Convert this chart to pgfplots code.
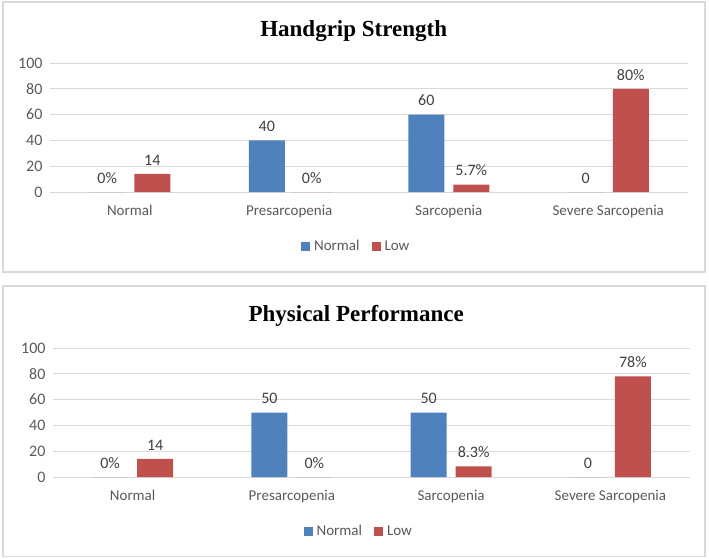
\documentclass[border=0pt]{standalone}
\usepackage{fontspec}
\setmainfont{Carlito}
\newfontfamily\titlefont{Liberation Serif}
\usepackage{pgfplots}
\pgfplotsset{compat=1.18}
\definecolor{barblue}{RGB}{79,129,189}
\definecolor{barred}{RGB}{192,80,77}
\definecolor{gridgray}{RGB}{217,217,217}
\definecolor{textgray}{RGB}{89,89,89}
\definecolor{labelgray}{RGB}{64,64,64}

\pgfplotsset{
  sarco/.style={
    ybar, scale only axis, height=129pt,
    xmin=-0.5, xmax=3.5, ymin=0, ymax=100,
    xtick={0,1,2,3},
    xticklabels={Normal, Presarcopenia, Sarcopenia, Severe Sarcopenia},
    ytick={0,20,...,100},
    ymajorgrids, grid style={gridgray, line width=0.8pt},
    axis line style={draw=none},
    major tick length=0pt,
    tick label style={text=textgray},
    yticklabel style={font=\fontsize{16}{18}\selectfont, xshift=-4pt},
    xticklabel style={font=\fontsize{15}{17}\selectfont, yshift=-10pt},
    /pgf/number format/assume math mode=true,
    bar width=36pt,
    nodes near coords,
    point meta=explicit symbolic,
    nodes near coords style={font=\fontsize{16}{18}\selectfont, text=labelgray, yshift=5pt},
    legend columns=2,
    legend style={draw=none, fill=none, at={(0.48,-0.42)}, anchor=center,
      font=\fontsize{15}{17}\selectfont, text=textgray,
      /tikz/every even column/.append style={column sep=10pt}},
    legend image code/.code={\fill[#1] (0pt,-4.5pt) rectangle (9pt,4.5pt);
      \path (0pt,0pt) -- (11pt,0pt);},
    title style={at={(0.476,1.20)}, anchor=center,
      font=\titlefont\bfseries\fontsize{23}{26}\selectfont, text=black},
  }
}

\begin{document}
\begin{tikzpicture}
\useasboundingbox (0pt,0pt) rectangle (709pt,558pt);
\draw[gridgray, line width=1.5pt] (3pt,286pt) rectangle (705pt,556pt);
\draw[gridgray, line width=1.5pt] (3pt,1.5pt) rectangle (705pt,272pt);

% Handgrip Strength
\begin{axis}[sarco, at={(50pt,366pt)}, anchor=south west, width=638pt,
  title={Handgrip Strength}]
\addplot[fill=barblue, draw=none, bar shift=-22.5pt] coordinates {
  (0,0) [0\%] (1,40) [40] (2,60) [60] (3,0) [0]
};
\addplot[fill=barred, draw=none, bar shift=22.5pt] coordinates {
  (0,14) [14] (1,0) [0\%] (2,5.7) [5.7\%] (3,80) [80\%]
};
\legend{Normal, Low}
\end{axis}

% Physical Performance
\begin{axis}[sarco, at={(53pt,81pt)}, anchor=south west, width=637pt,
  title={Physical Performance}]
\addplot[fill=barblue, draw=none, bar shift=-22.5pt] coordinates {
  (0,0) [0\%] (1,50) [50] (2,50) [50] (3,0) [0]
};
\addplot[fill=barred, draw=none, bar shift=22.5pt] coordinates {
  (0,14) [14] (1,0) [0\%] (2,8.3) [8.3\%] (3,78) [78\%]
};
\legend{Normal, Low}
\end{axis}
\end{tikzpicture}
\end{document}
